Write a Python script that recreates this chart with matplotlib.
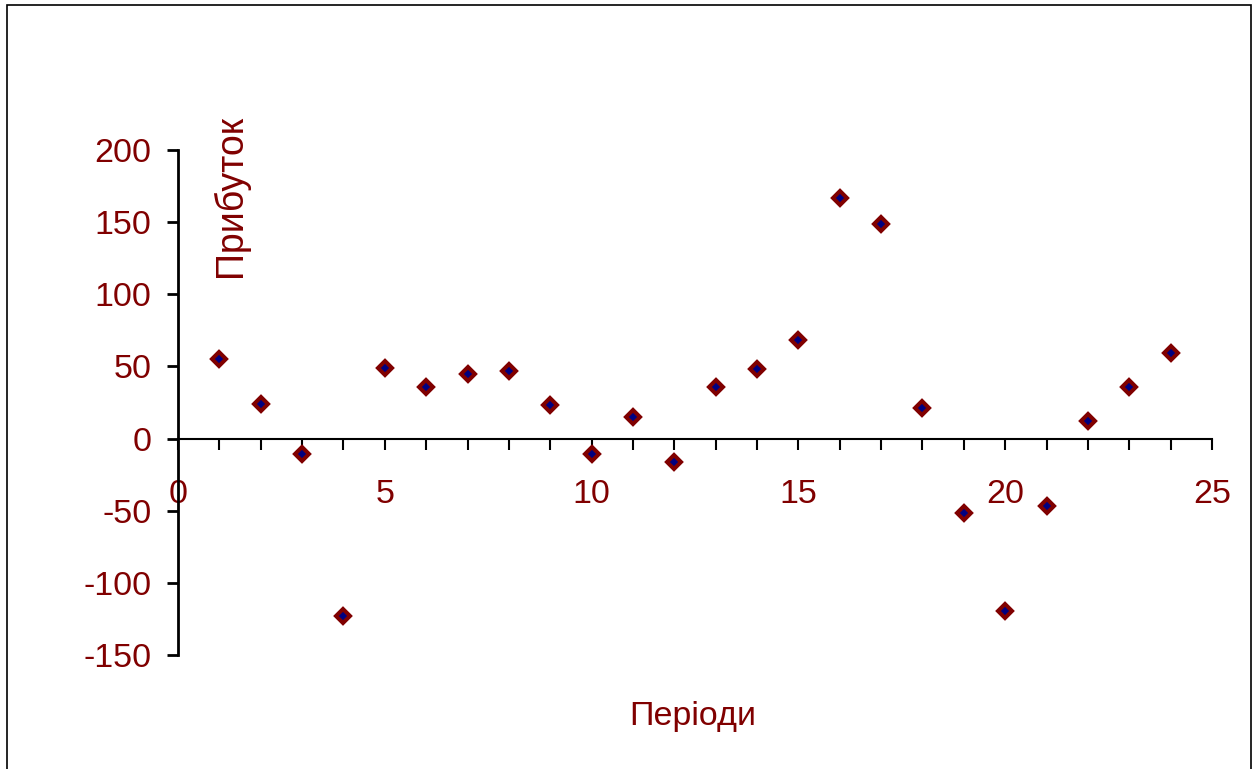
import numpy as np
import matplotlib.pyplot as plt
from matplotlib.patches import Rectangle
from matplotlib.ticker import MultipleLocator

plt.rcParams['font.family'] = ['Liberation Sans', 'DejaVu Sans']
plt.rcParams['axes.unicode_minus'] = False

# periods and profit
periods = np.arange(1, 25)
profit = [55, 24, -11, -123, 49, 36, 45, 46.5, 23, -10.5, 15, -16.5,
          36, 48.5, 68.5, 166.5, 148.5, 21, -51.5, -119.5, -46.5, 12.5, 36, 59]

xlabel = "Періоди"
ylabel = "Прибуток"
text_color = "#800000"

fig = plt.figure(figsize=(12.6, 7.69), dpi=100)
ax = fig.add_axes([0.1413, 0.1482, 0.8206, 0.6568])

# outer frame like an Excel chart area
fig.patches.append(Rectangle((7/1260, -0.05), 1244/1260, 1.05 - 5/769,
                             transform=fig.transFigure, fill=False,
                             edgecolor="black", lw=1.2))

ax.plot(periods, profit, ls="none", marker="D", ms=7.5,
        mfc="#000080", mec="#800000", mew=2.9)

ax.set_xlim(0, 25)
ax.set_ylim(-150, 200)
ax.spines['top'].set_visible(False)
ax.spines['right'].set_visible(False)
ax.spines['bottom'].set_position(('data', 0))
ax.spines['left'].set_position(('data', 0))
ax.spines['left'].set_linewidth(2)
ax.spines['bottom'].set_linewidth(1.5)

ax.xaxis.set_major_locator(MultipleLocator(5))
ax.xaxis.set_minor_locator(MultipleLocator(1))
ax.yaxis.set_major_locator(MultipleLocator(50))
ax.tick_params(axis='x', which='both', direction='out', length=8, width=1.5,
               colors='black', labelcolor=text_color, labelsize=24.5, pad=21)
ax.tick_params(axis='y', which='major', direction='out', length=8, width=2,
               colors='black', labelcolor=text_color, labelsize=24.5, pad=11)

fig.text(230/1260, 1 - 196/769, ylabel, rotation=90, ha="center", va="center",
         color=text_color, fontsize=27)
fig.text(693/1260, 1 - 717/769, xlabel, ha="center", va="center",
         color=text_color, fontsize=24.5)

plt.savefig("out.png", dpi=100)
